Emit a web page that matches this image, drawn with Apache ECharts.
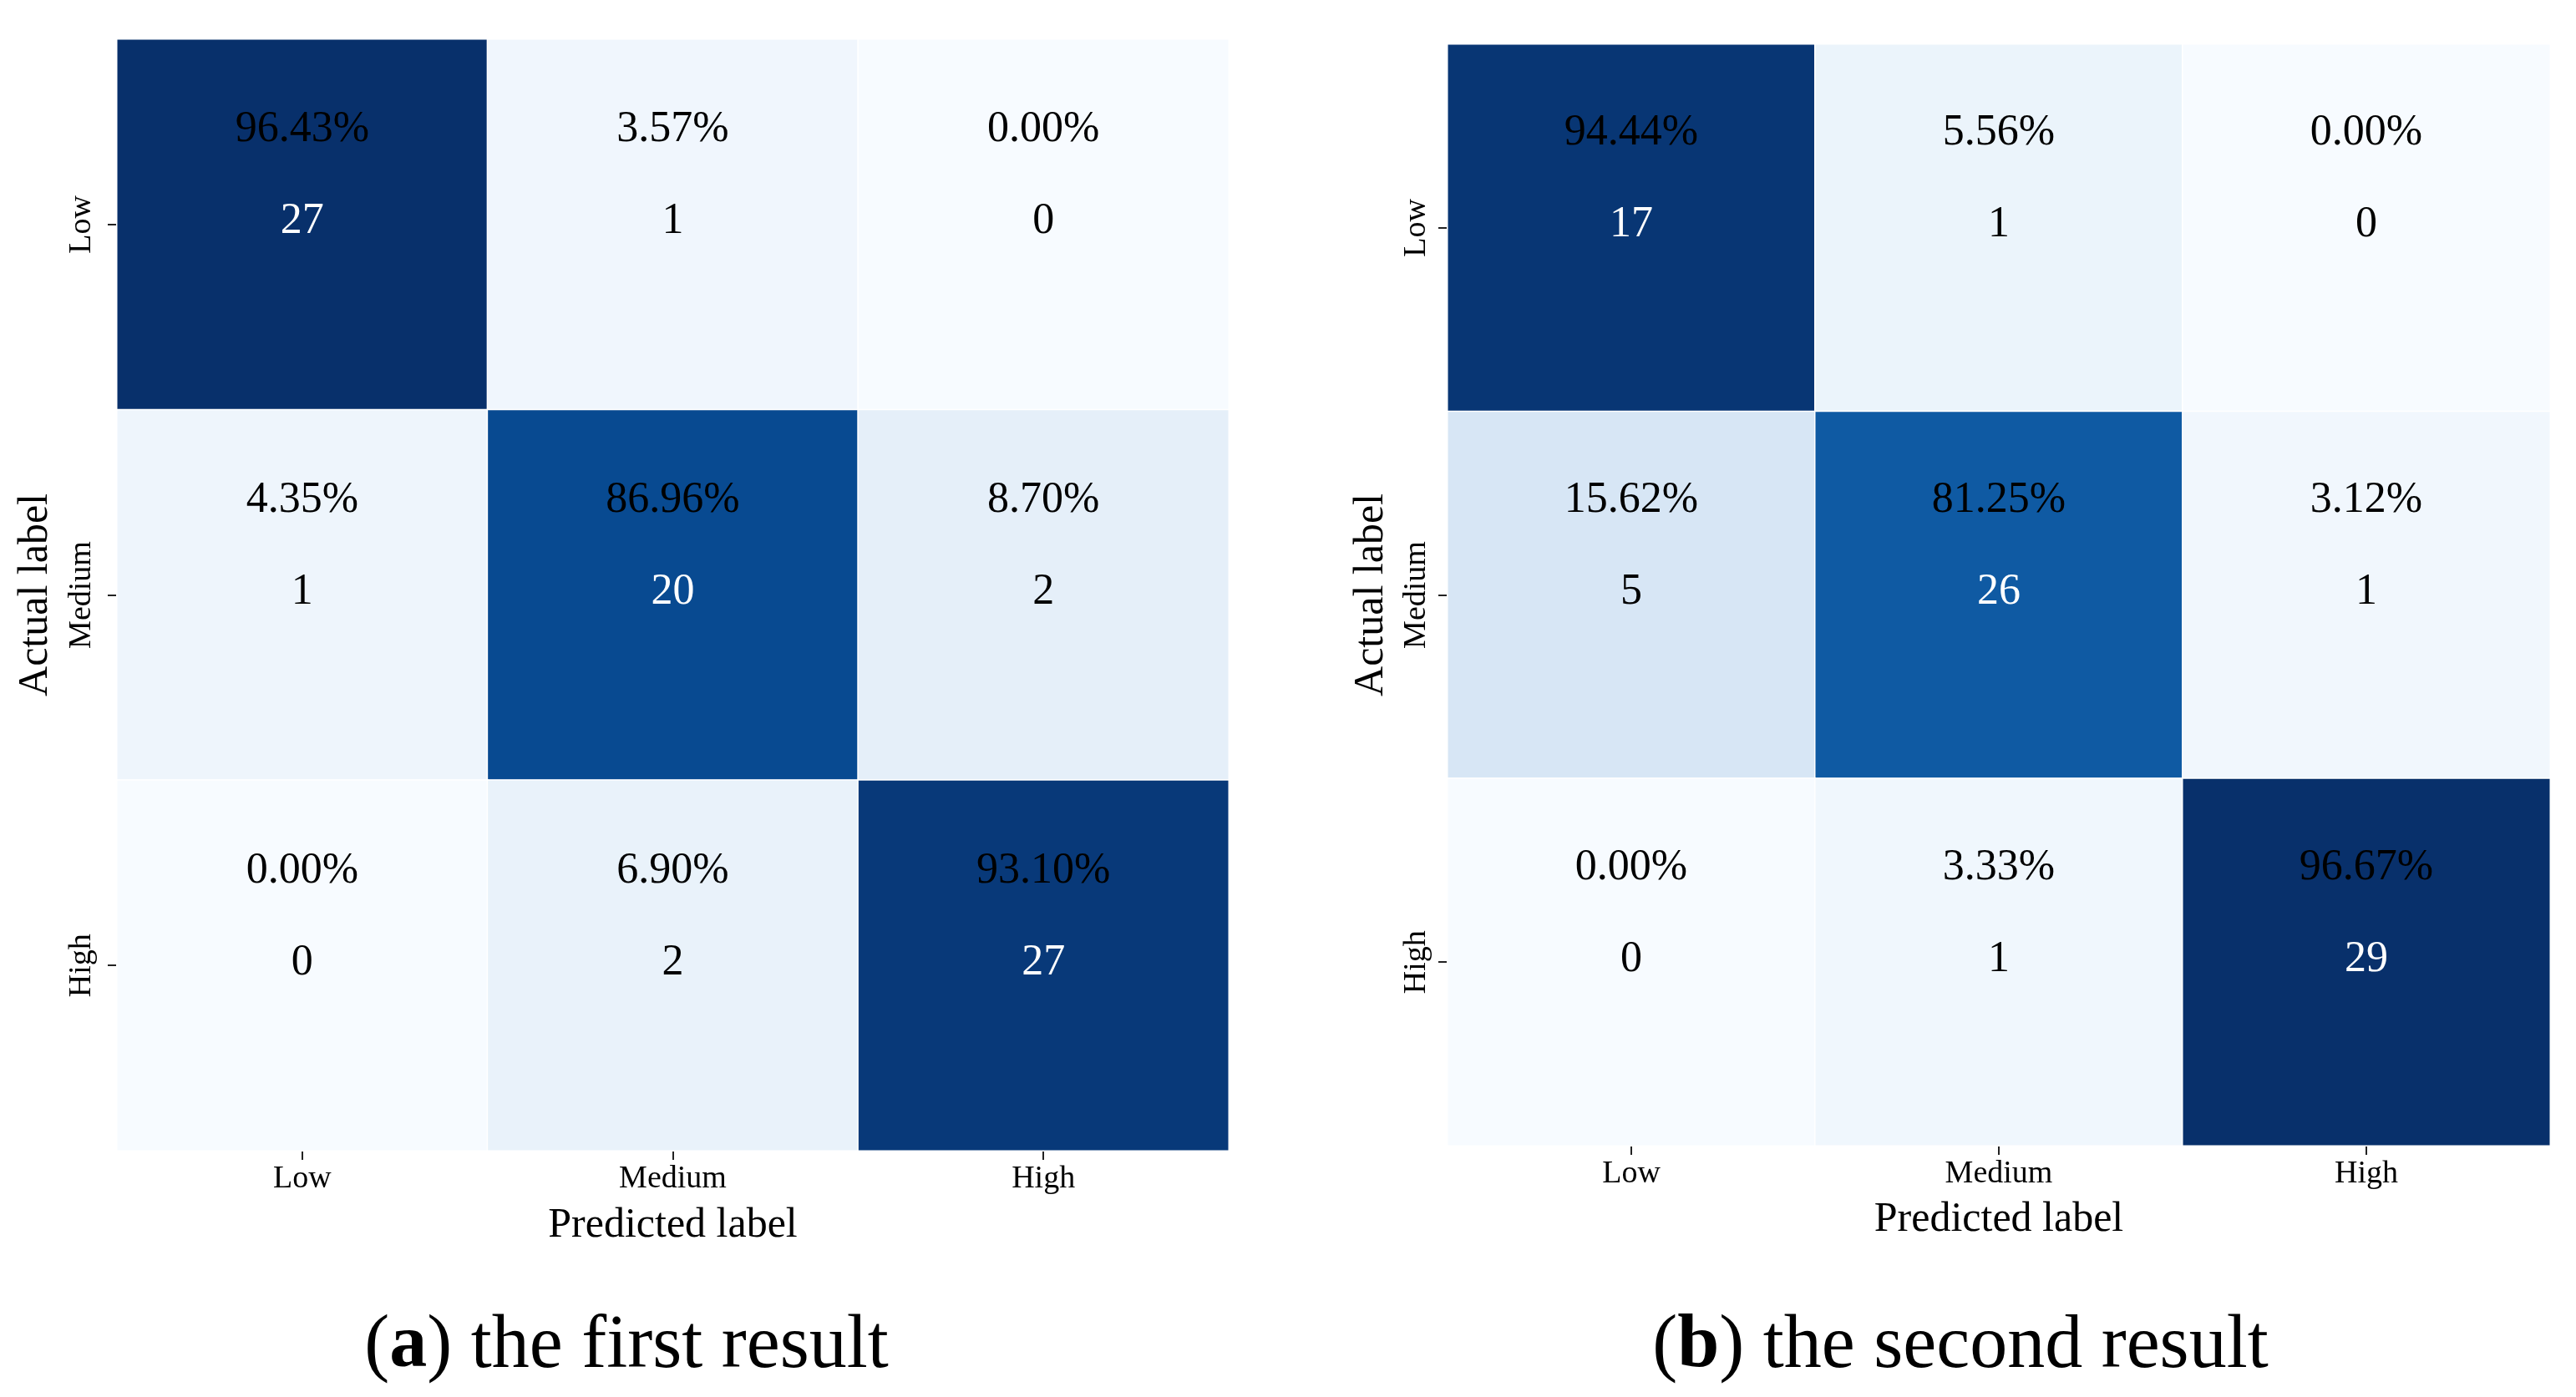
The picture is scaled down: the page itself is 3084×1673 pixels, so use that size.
<!DOCTYPE html>
<html>
<head>
<meta charset="utf-8">
<script src="https://cdn.jsdelivr.net/npm/echarts@6/dist/echarts.min.js"></script>
<style>
html,body{margin:0;padding:0;background:#fff;}
#c{width:3084px;height:1673px;}
</style>
</head>
<body>
<div id="c"></div>
<script>
var categories = ['Low', 'Medium', 'High'];
// rows = actual label (Low, Medium, High); columns = predicted label
var percentA = [[96.43, 3.57, 0.00], [4.35, 86.96, 8.70], [0.00, 6.90, 93.10]];
var countA = [[27, 1, 0], [1, 20, 2], [0, 2, 27]];
var percentB = [[94.44, 5.56, 0.00], [15.62, 81.25, 3.12], [0.00, 3.33, 96.67]];
var countB = [[17, 1, 0], [5, 26, 1], [0, 1, 29]];
var captionA = ['a', ' the first result'];
var captionB = ['b', ' the second result'];
var axisNameX = 'Predicted label';
var axisNameY = 'Actual label';

var blues = ['#f7fbff', '#deebf7', '#c6dbef', '#9ecae1', '#6baed6', '#4292c6', '#2171b5', '#08519c', '#08306b'];
var FONT = 'Liberation Serif';

function buildData(pct, cnt) {
  var out = [];
  for (var r = 0; r < 3; r++) {
    for (var c = 0; c < 3; c++) {
      out.push({ value: [c, r, pct[r][c]], count: cnt[r][c] });
    }
  }
  return out;
}
function maxOf(m) {
  var v = -Infinity;
  m.forEach(function (row) { row.forEach(function (x) { if (x > v) v = x; }); });
  return v;
}
var maxA = maxOf(percentA), maxB = maxOf(percentB);

function labelFn(maxV) {
  return function (p) {
    var pv = p.value[2];
    var style = (pv / maxV > 0.5) ? 'cw' : 'cb';
    return '{p|' + pv.toFixed(2) + '%}\n{' + style + '|' + p.data.count + '}';
  };
}
var rich = {
  p: { fontFamily: FONT, fontSize: 52, color: '#000', lineHeight: 110 },
  cw: { fontFamily: FONT, fontSize: 52, color: '#fff', lineHeight: 110 },
  cb: { fontFamily: FONT, fontSize: 52, color: '#000', lineHeight: 110 }
};

function xAxis(gi, margin, gap) {
  return {
    type: 'category', gridIndex: gi, data: categories, position: 'bottom',
    axisLine: { show: false }, splitLine: { show: false },
    axisTick: { show: true, alignWithLabel: true, length: 11, lineStyle: { color: '#222', width: 2 } },
    axisLabel: { fontFamily: FONT, fontSize: 38, color: '#000', margin: margin },
    name: axisNameX, nameLocation: 'middle', nameGap: gap,
    nameTextStyle: { fontFamily: FONT, fontSize: 50, color: '#000' }
  };
}
function yAxis(gi, margin, gap) {
  return {
    type: 'category', gridIndex: gi, data: categories, inverse: true,
    axisLine: { show: false }, splitLine: { show: false },
    axisTick: { show: true, alignWithLabel: true, length: 11, lineStyle: { color: '#222', width: 2 } },
    axisLabel: { fontFamily: FONT, fontSize: 38, color: '#000', rotate: 90, margin: margin },
    name: axisNameY, nameLocation: 'middle', nameGap: gap, nameRotate: 90,
    nameTextStyle: { fontFamily: FONT, fontSize: 50, color: '#000' }
  };
}
function series(idx, pct, cnt, maxV) {
  return {
    type: 'heatmap', xAxisIndex: idx, yAxisIndex: idx,
    data: buildData(pct, cnt),
    itemStyle: { borderColor: '#fff', borderWidth: 1.5 },
    label: { show: true, formatter: labelFn(maxV), rich: rich, offset: [0, -58] },
    emphasis: { disabled: true }
  };
}
function caption(parts, x) {
  return {
    type: 'text', x: x, y: 1613,
    style: {
      text: '({b|' + parts[0] + '})' + parts[1],
      align: 'center', verticalAlign: 'middle',
      fontFamily: FONT, fontSize: 90, fill: '#000',
      rich: { b: { fontFamily: FONT, fontSize: 90, fontWeight: 'bold', fill: '#000' } }
    }
  };
}

var chart = echarts.init(document.getElementById('c'), null, { renderer: 'canvas' });
chart.setOption({
  backgroundColor: '#fff',
  animation: false,
  textStyle: { fontFamily: FONT },
  grid: [
    { left: 140, top: 47, width: 1331, height: 1331 },
    { left: 1733, top: 53, width: 1320, height: 1319 }
  ],
  xAxis: [xAxis(0, 15, 65), xAxis(1, 15, 64)],
  yAxis: [yAxis(0, 23, 72), yAxis(1, 18, 66)],
  visualMap: [
    { type: 'continuous', show: false, seriesIndex: 0, dimension: 2, min: 0, max: maxA, inRange: { color: blues } },
    { type: 'continuous', show: false, seriesIndex: 1, dimension: 2, min: 0, max: maxB, inRange: { color: blues } }
  ],
  series: [series(0, percentA, countA, maxA), series(1, percentB, countB, maxB)],
  graphic: [caption(captionA, 750), caption(captionB, 2347)]
});
</script>
</body>
</html>
